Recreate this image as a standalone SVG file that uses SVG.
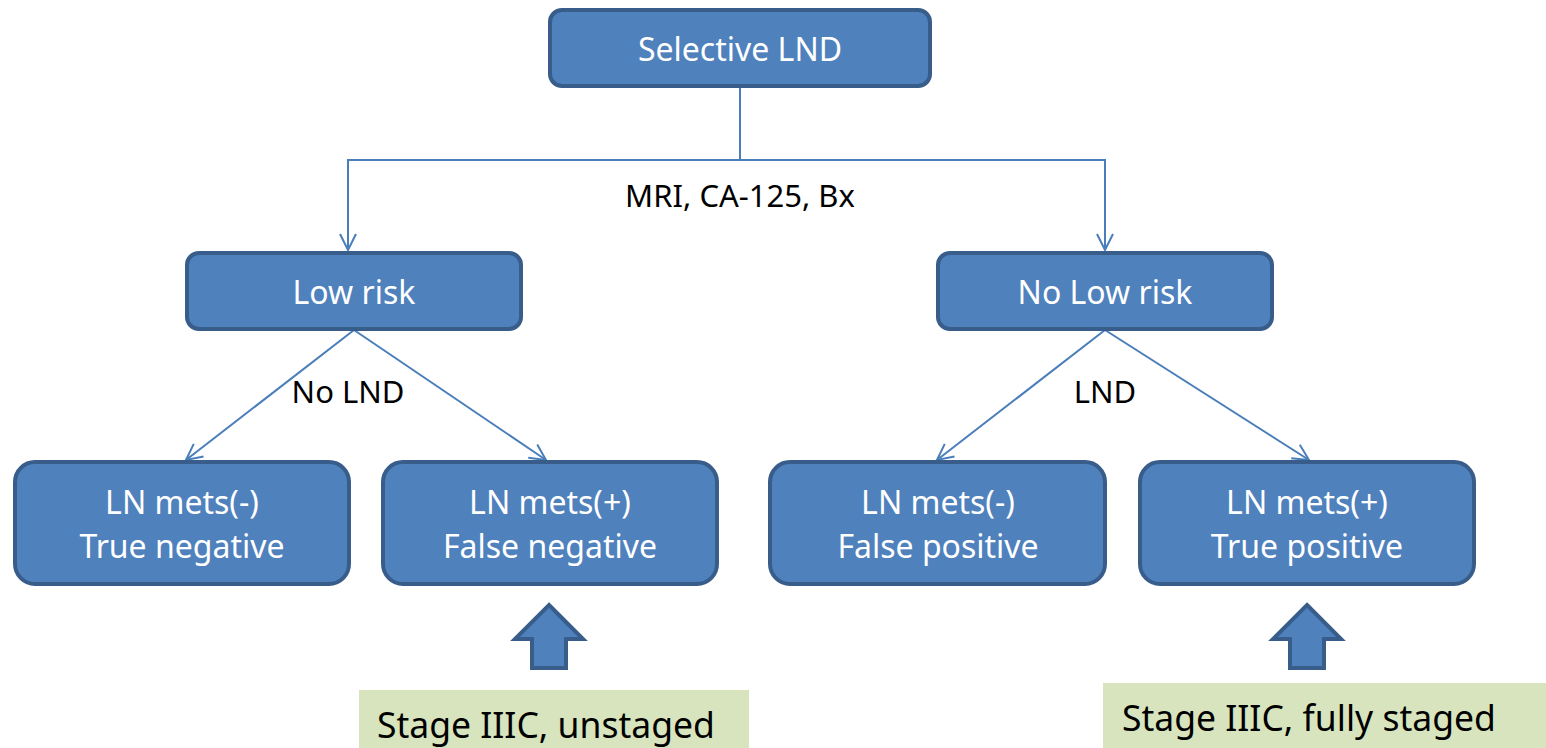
<svg xmlns="http://www.w3.org/2000/svg" width="1546" height="748" viewBox="0 0 1546 748">
  <style>
    .box { fill: #4F81BD; stroke: #385D8A; stroke-width: 4; }
    .btxt { fill: #FFFFFF; font-family: "Noto Sans", "Open Sans", sans-serif; font-size: 32px; text-anchor: middle; }
    .lbl { fill: #000000; font-family: "Noto Sans", "Open Sans", sans-serif; font-size: 31px; text-anchor: middle; }
    .conn { fill: none; stroke: #4A7EBB; stroke-width: 2; }
    .note { fill: #D7E4BD; }
    .ntxt { fill: #000000; font-family: "Noto Sans", "Open Sans", sans-serif; font-size: 35.5px; }
    .barrow { fill: #4F81BD; stroke: #385D8A; stroke-width: 4; stroke-linejoin: miter; }
  </style>
  <defs>
    <marker id="open" viewBox="0 0 20 20" refX="18" refY="10" markerWidth="20" markerHeight="20" markerUnits="userSpaceOnUse" orient="auto">
      <path d="M2,2 L18,10 L2,18" fill="none" stroke="#4A7EBB" stroke-width="2"/>
    </marker>
  </defs>

  <g id="connectors">
    <path class="conn" d="M740,87 V160 H348 V250" marker-end="url(#open)"/>
    <path class="conn" d="M740,160 H1105 V250" marker-end="url(#open)"/>
    <path class="conn" d="M354,330 L186,460" marker-end="url(#open)"/>
    <path class="conn" d="M354,330 L546,460" marker-end="url(#open)"/>
    <path class="conn" d="M1105,330 L937,460" marker-end="url(#open)"/>
    <path class="conn" d="M1105,330 L1309,460" marker-end="url(#open)"/>
    <text class="lbl" x="740" y="207">MRI, CA-125, Bx</text>
    <text class="lbl" x="348" y="403">No LND</text>
    <text class="lbl" x="1105" y="403">LND</text>
  </g>

  <g id="selective-lnd">
    <rect class="box" x="550" y="10" width="380" height="76" rx="12"/>
    <text class="btxt" x="740" y="61">Selective LND</text>
  </g>

  <g id="low-risk">
    <rect class="box" x="187" y="253" width="334" height="76" rx="12"/>
    <text class="btxt" x="354" y="304">Low risk</text>
  </g>

  <g id="no-low-risk">
    <rect class="box" x="938" y="253" width="334" height="76" rx="12"/>
    <text class="btxt" x="1105" y="304">No Low risk</text>
  </g>

  <g id="true-negative">
    <rect class="box" x="15" y="462" width="334" height="122" rx="20"/>
    <text class="btxt" x="182" y="514">LN mets(-)</text>
    <text class="btxt" x="182" y="558">True negative</text>
  </g>

  <g id="false-negative">
    <rect class="box" x="383" y="462" width="334" height="122" rx="20"/>
    <text class="btxt" x="550" y="514">LN mets(+)</text>
    <text class="btxt" x="550" y="558">False negative</text>
  </g>

  <g id="false-positive">
    <rect class="box" x="770" y="462" width="335" height="122" rx="20"/>
    <text class="btxt" x="938" y="514">LN mets(-)</text>
    <text class="btxt" x="938" y="558">False positive</text>
  </g>

  <g id="true-positive">
    <rect class="box" x="1140" y="462" width="334" height="122" rx="20"/>
    <text class="btxt" x="1307" y="514">LN mets(+)</text>
    <text class="btxt" x="1307" y="558">True positive</text>
  </g>

  <g id="arrow-unstaged">
    <path class="barrow" d="M549,605 L583,639 L566,639 L566,668 L532,668 L532,639 L515,639 Z"/>
  </g>

  <g id="arrow-fully-staged">
    <path class="barrow" d="M1307,605 L1341,639 L1324,639 L1324,668 L1290,668 L1290,639 L1273,639 Z"/>
  </g>

  <g id="stage-unstaged">
    <rect class="note" x="359" y="690" width="390" height="58"/>
    <text class="ntxt" x="377" y="738">Stage IIIC, unstaged</text>
  </g>

  <g id="stage-fully-staged">
    <rect class="note" x="1103" y="683" width="443" height="65"/>
    <text class="ntxt" x="1122" y="731">Stage IIIC, fully staged</text>
  </g>
</svg>
